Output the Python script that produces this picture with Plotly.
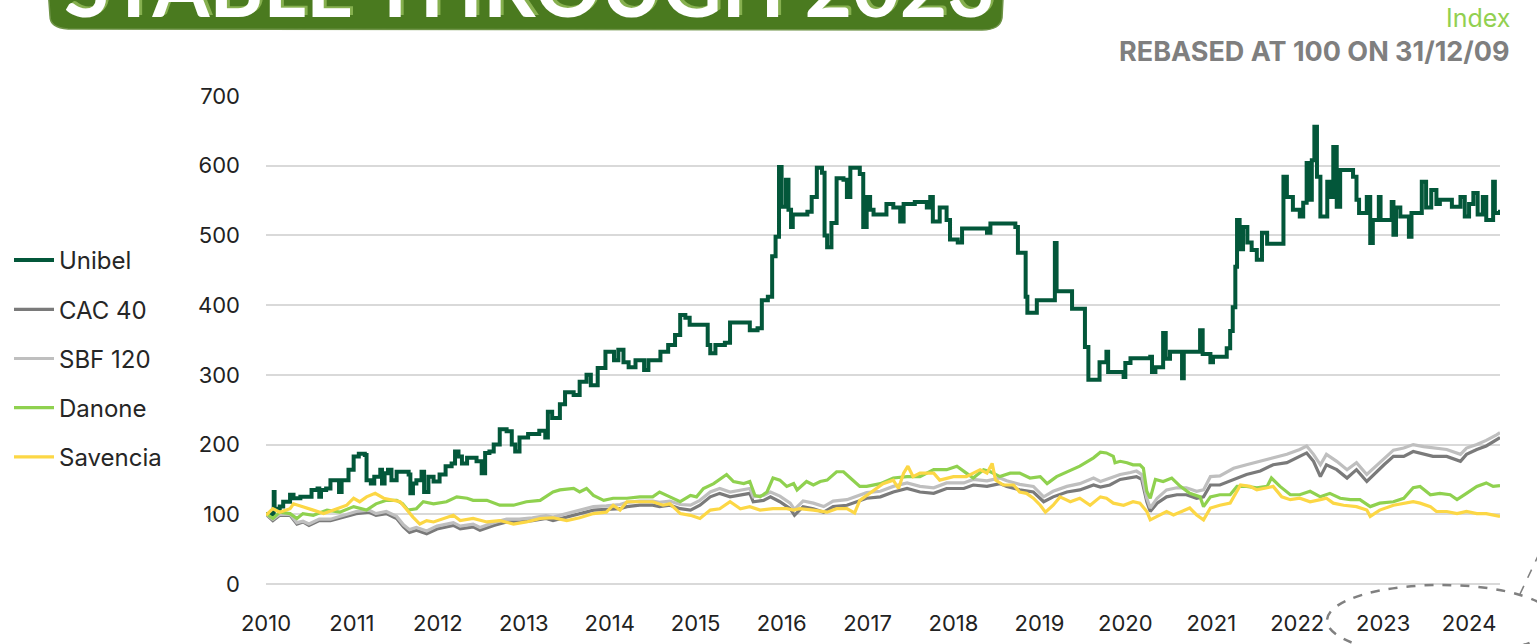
import plotly.graph_objects as go

# ---------------- data ----------------
years = list(range(2010, 2025))
year_labels = [str(y) for y in years]

unibel_t = [2010.00, 2010.08, 2010.09, 2010.10, 2010.16, 2010.20, 2010.28, 2010.32, 2010.40, 2010.53,
            2010.60, 2010.62, 2010.64, 2010.70, 2010.75, 2010.85, 2010.88, 2010.96, 2011.02, 2011.08,
            2011.15, 2011.17, 2011.22, 2011.26, 2011.33, 2011.35, 2011.38, 2011.42, 2011.46, 2011.52,
            2011.66, 2011.68, 2011.71, 2011.75, 2011.81, 2011.84, 2011.89, 2011.95, 2012.02, 2012.09,
            2012.16, 2012.20, 2012.24, 2012.28, 2012.34, 2012.45, 2012.51, 2012.55, 2012.60, 2012.65,
            2012.72, 2012.80, 2012.86, 2012.90, 2012.95, 2013.05, 2013.18, 2013.25, 2013.28, 2013.33,
            2013.42, 2013.48, 2013.58, 2013.65, 2013.73, 2013.78, 2013.86, 2013.95, 2014.05, 2014.10,
            2014.16, 2014.22, 2014.30, 2014.40, 2014.45, 2014.59, 2014.68, 2014.76, 2014.82, 2014.88,
            2014.93, 2015.14, 2015.17, 2015.23, 2015.34, 2015.40, 2015.63, 2015.72, 2015.77, 2015.84,
            2015.89, 2015.93, 2015.97, 2016.00, 2016.05, 2016.08, 2016.11, 2016.13, 2016.30, 2016.35,
            2016.41, 2016.47, 2016.50, 2016.53, 2016.58, 2016.64, 2016.72, 2016.76, 2016.80, 2016.91,
            2016.95, 2016.99, 2017.03, 2017.07, 2017.22, 2017.30, 2017.38, 2017.42, 2017.55, 2017.69,
            2017.73, 2017.76, 2017.84, 2017.92, 2017.96, 2018.05, 2018.10, 2018.39, 2018.43, 2018.72,
            2018.75, 2018.84, 2018.86, 2018.97, 2019.18, 2019.20, 2019.38, 2019.53, 2019.57, 2019.70,
            2019.78, 2019.80, 2019.98, 2020.00, 2020.06, 2020.29, 2020.31, 2020.35, 2020.44, 2020.47,
            2020.52, 2020.66, 2020.68, 2020.87, 2020.90, 2020.99, 2021.02, 2021.18, 2021.22, 2021.25,
            2021.28, 2021.30, 2021.33, 2021.37, 2021.42, 2021.47, 2021.53, 2021.59, 2021.65, 2021.84,
            2021.88, 2021.95, 2022.03, 2022.07, 2022.11, 2022.15, 2022.17, 2022.20, 2022.23, 2022.27,
            2022.35, 2022.38, 2022.42, 2022.46, 2022.50, 2022.65, 2022.69, 2022.72, 2022.81, 2022.85,
            2022.88, 2022.95, 2022.97, 2023.10, 2023.12, 2023.15, 2023.20, 2023.30, 2023.33, 2023.45,
            2023.50, 2023.56, 2023.62, 2023.66, 2023.80, 2023.90, 2023.95, 2024.00, 2024.05, 2024.10,
            2024.16, 2024.20, 2024.28, 2024.30, 2024.36]
unibel_v = [100, 101, 132, 108, 111, 118, 128, 123, 125, 135,
            137, 125, 135, 137, 149, 132, 149, 164, 183, 187,
            185, 149, 144, 154, 164, 144, 159, 164, 149, 161,
            157, 130, 144, 149, 161, 132, 154, 147, 157, 169,
            173, 190, 183, 173, 181, 176, 159, 188, 190, 200,
            222, 219, 200, 190, 210, 215, 220, 210, 247, 238,
            258, 275, 271, 290, 300, 285, 310, 333, 321, 336,
            318, 311, 321, 307, 321, 333, 343, 357, 386, 382,
            372, 343, 331, 343, 346, 375, 364, 367, 407, 412,
            470, 498, 598, 541, 580, 537, 512, 530, 534, 555,
            597, 590, 500, 483, 518, 582, 580, 555, 597, 588,
            512, 555, 537, 530, 545, 540, 520, 545, 548, 540,
            555, 520, 540, 522, 494, 490, 510, 504, 517, 512,
            475, 412, 389, 407, 489, 420, 395, 340, 293, 318,
            333, 304, 297, 317, 324, 326, 304, 311, 360, 323,
            333, 295, 333, 364, 330, 318, 326, 338, 363, 397,
            455, 522, 480, 512, 490, 479, 465, 504, 488, 584,
            555, 537, 527, 547, 604, 551, 608, 656, 584, 527,
            577, 555, 627, 541, 594, 584, 551, 532, 555, 489,
            522, 555, 522, 548, 501, 540, 527, 498, 532, 577,
            540, 565, 545, 551, 541, 555, 527, 545, 561, 530,
            555, 522, 577, 532, 537]

cac_t = [2010.00, 2010.08, 2010.16, 2010.28, 2010.36, 2010.43, 2010.50, 2010.62, 2010.75, 2010.90,
         2011.05, 2011.20, 2011.28, 2011.40, 2011.52, 2011.60, 2011.67, 2011.75, 2011.87, 2011.99,
         2012.10, 2012.18, 2012.26, 2012.41, 2012.49, 2012.65, 2012.80, 2012.95, 2013.10, 2013.26,
         2013.34, 2013.50, 2013.65, 2013.81, 2013.96, 2014.12, 2014.20, 2014.35, 2014.50, 2014.58,
         2014.70, 2014.82, 2014.94, 2015.05, 2015.17, 2015.28, 2015.40, 2015.52, 2015.63, 2015.67,
         2015.79, 2015.87, 2015.98, 2016.10, 2016.15, 2016.25, 2016.37, 2016.49, 2016.60, 2016.76,
         2016.87, 2016.99, 2017.15, 2017.30, 2017.46, 2017.61, 2017.77, 2017.92, 2018.12, 2018.23,
         2018.39, 2018.54, 2018.62, 2018.77, 2018.93, 2019.05, 2019.16, 2019.32, 2019.47, 2019.63,
         2019.71, 2019.82, 2019.94, 2020.06, 2020.13, 2020.19, 2020.25, 2020.29, 2020.37, 2020.48,
         2020.60, 2020.71, 2020.83, 2020.91, 2020.99, 2021.10, 2021.26, 2021.41, 2021.57, 2021.72,
         2021.88, 2022.03, 2022.11, 2022.19, 2022.27, 2022.34, 2022.46, 2022.58, 2022.69, 2022.81,
         2022.89, 2023.01, 2023.12, 2023.24, 2023.35, 2023.47, 2023.58, 2023.74, 2023.90, 2023.97,
         2024.09, 2024.20, 2024.32, 2024.36]
cac_v = [100, 91, 98.5, 98.5, 86, 89, 84, 91, 91, 96,
         101, 103, 98.5, 101, 94, 82, 74, 77, 72, 79,
         82, 84, 79, 82, 77, 84, 89, 89, 91, 94,
         91, 96, 101, 106, 107, 108, 111, 113, 113, 111,
         113, 108, 106, 113, 125, 130, 125, 127, 130, 118,
         120, 125, 118, 108, 98.5, 111, 108, 103, 111, 113,
         118, 123, 125, 132, 137, 132, 130, 137, 137, 142,
         140, 144, 140, 135, 132, 118, 125, 132, 135, 142,
         139, 142, 150, 152, 154, 150, 118, 104, 116, 125,
         128, 128, 123, 125, 142, 142, 150, 157, 162, 171,
         174, 183, 188, 176, 154, 171, 164, 152, 164, 147,
         157, 171, 183, 183, 190, 186, 183, 183, 176, 186,
         193, 198, 207, 210]

sbf_t = cac_t
sbf_v = [100, 93, 100, 100, 88, 90, 86, 93, 93, 98,
         104, 106, 101, 104, 97, 85, 78, 81, 76, 83,
         86, 88, 83, 86, 81, 88, 93, 93, 95, 98,
         96, 101, 106, 111, 112, 114, 117, 119, 119, 117,
         119, 114, 113, 120, 132, 137, 132, 134, 137, 125,
         127, 132, 126, 116, 107, 119, 116, 111, 119, 121,
         126, 131, 133, 140, 145, 140, 138, 145, 145, 150,
         148, 152, 148, 143, 140, 125, 133, 140, 144, 152,
         147, 152, 157, 160, 162, 157, 123, 109, 123, 135,
         138, 138, 133, 135, 154, 155, 166, 171, 176, 181,
         186, 193, 198, 186, 171, 186, 176, 164, 174, 157,
         166, 181, 192, 195, 200, 197, 195, 193, 186, 195,
         200, 206, 214, 217]

danone_t = [2010.00, 2010.08, 2010.16, 2010.28, 2010.36, 2010.43, 2010.55, 2010.71, 2010.86, 2011.02,
            2011.17, 2011.28, 2011.40, 2011.52, 2011.59, 2011.65, 2011.75, 2011.83, 2011.95, 2012.10,
            2012.22, 2012.34, 2012.41, 2012.57, 2012.72, 2012.88, 2013.03, 2013.19, 2013.34, 2013.42,
            2013.58, 2013.65, 2013.73, 2013.81, 2013.93, 2014.04, 2014.20, 2014.35, 2014.50, 2014.58,
            2014.70, 2014.82, 2014.94, 2015.01, 2015.09, 2015.21, 2015.36, 2015.44, 2015.56, 2015.63,
            2015.69, 2015.75, 2015.83, 2015.90, 2015.98, 2016.06, 2016.14, 2016.18, 2016.29, 2016.37,
            2016.45, 2016.53, 2016.64, 2016.72, 2016.80, 2016.91, 2016.99, 2017.15, 2017.30, 2017.46,
            2017.61, 2017.77, 2017.92, 2018.04, 2018.15, 2018.23, 2018.35, 2018.43, 2018.54, 2018.66,
            2018.77, 2018.89, 2019.01, 2019.09, 2019.20, 2019.32, 2019.47, 2019.63, 2019.71, 2019.78,
            2019.86, 2019.88, 2019.94, 2020.02, 2020.09, 2020.17, 2020.21, 2020.25, 2020.29, 2020.35,
            2020.44, 2020.54, 2020.64, 2020.75, 2020.87, 2020.91, 2020.99, 2021.10, 2021.22, 2021.30,
            2021.41, 2021.53, 2021.65, 2021.70, 2021.80, 2021.92, 2022.03, 2022.15, 2022.27, 2022.38,
            2022.50, 2022.62, 2022.73, 2022.85, 2022.96, 2023.12, 2023.24, 2023.35, 2023.43, 2023.55,
            2023.66, 2023.78, 2023.86, 2023.97, 2024.09, 2024.20, 2024.28, 2024.36]
danone_v = [101, 94, 103, 101, 94, 101, 98.5, 106, 103, 111,
            106, 115, 120, 120, 115, 106, 108, 118, 115, 118,
            125, 123, 120, 120, 113, 113, 118, 120, 132, 135,
            137, 132, 137, 127, 120, 123, 123, 125, 125, 132,
            125, 118, 127, 125, 137, 144, 157, 147, 144, 147,
            127, 125, 132, 152, 149, 140, 144, 135, 147, 142,
            147, 149, 161, 161, 152, 140, 140, 144, 152, 154,
            154, 164, 164, 169, 159, 152, 164, 161, 154, 159,
            159, 152, 154, 144, 154, 161, 169, 181, 189, 188,
            183, 174, 176, 174, 171, 171, 166, 133, 123, 150,
            147, 152, 140, 130, 125, 111, 125, 128, 128, 140,
            140, 138, 140, 152, 140, 128, 128, 133, 125, 130,
            123, 121, 121, 111, 116, 118, 123, 138, 140, 128,
            130, 128, 121, 130, 140, 145, 140, 141]

savencia_t = [2010.00, 2010.08, 2010.16, 2010.28, 2010.32, 2010.43, 2010.55, 2010.67, 2010.82, 2010.94,
              2011.02, 2011.09, 2011.17, 2011.27, 2011.37, 2011.48, 2011.56, 2011.63, 2011.71, 2011.79,
              2011.87, 2011.95, 2012.06, 2012.18, 2012.26, 2012.41, 2012.57, 2012.72, 2012.88, 2013.03,
              2013.19, 2013.34, 2013.50, 2013.65, 2013.81, 2013.96, 2014.04, 2014.12, 2014.20, 2014.35,
              2014.50, 2014.62, 2014.70, 2014.78, 2014.82, 2014.94, 2015.05, 2015.17, 2015.28, 2015.40,
              2015.52, 2015.63, 2015.75, 2015.90, 2016.06, 2016.14, 2016.21, 2016.37, 2016.53, 2016.64,
              2016.76, 2016.85, 2016.91, 2016.99, 2017.11, 2017.18, 2017.30, 2017.36, 2017.42, 2017.47,
              2017.53, 2017.61, 2017.77, 2017.84, 2018.00, 2018.15, 2018.31, 2018.39, 2018.45, 2018.49,
              2018.58, 2018.70, 2018.77, 2018.85, 2018.93, 2019.01, 2019.07, 2019.16, 2019.24, 2019.36,
              2019.47, 2019.59, 2019.71, 2019.78, 2019.86, 2019.98, 2020.09, 2020.17, 2020.25, 2020.29,
              2020.37, 2020.48, 2020.56, 2020.68, 2020.75, 2020.83, 2020.91, 2020.99, 2021.10, 2021.22,
              2021.30, 2021.34, 2021.45, 2021.53, 2021.65, 2021.72, 2021.82, 2021.92, 2022.03, 2022.15,
              2022.27, 2022.34, 2022.42, 2022.54, 2022.69, 2022.81, 2022.85, 2022.96, 2023.12, 2023.24,
              2023.35, 2023.43, 2023.55, 2023.62, 2023.74, 2023.86, 2023.97, 2024.09, 2024.20, 2024.36]
savencia_v = [98.5, 108, 103, 108, 115, 111, 106, 101, 108, 113,
              123, 118, 125, 130, 123, 120, 118, 108, 96, 86,
              91, 89, 94, 98.5, 91, 94, 89, 91, 86, 89,
              94, 95, 91, 95, 101, 103, 113, 106, 118, 118,
              118, 113, 115, 106, 101, 98.5, 94, 106, 108, 118,
              108, 111, 106, 108, 108, 106, 108, 106, 103, 108,
              108, 102, 120, 127, 137, 144, 149, 137, 159, 169,
              154, 159, 159, 149, 154, 154, 164, 159, 173, 149,
              142, 142, 132, 130, 123, 113, 103, 113, 125, 118,
              123, 113, 125, 123, 116, 113, 118, 116, 104, 92,
              97, 104, 99, 106, 109, 99, 92, 109, 113, 116,
              133, 142, 140, 135, 138, 140, 125, 121, 123, 118,
              121, 123, 116, 113, 111, 106, 97, 106, 113, 116,
              118, 116, 111, 104, 104, 101, 104, 101, 101, 97]

series = [
    ("Unibel", unibel_t, unibel_v, "#03573a", 4.0, "hv"),
    ("CAC 40", cac_t, cac_v, "#7a7a7a", 3.2, "linear"),
    ("SBF 120", sbf_t, sbf_v, "#bfbfbf", 3.2, "linear"),
    ("Danone", danone_t, danone_v, "#8fd14f", 3.2, "linear"),
    ("Savencia", savencia_t, savencia_v, "#fcd745", 3.2, "linear"),
]

# ---------------- layout helpers (pixel -> paper) ----------------
W, H = 1537, 644
ML, MR, MT, MB = 266, 37, 96, 60
PW, PH = W - ML - MR, H - MT - MB


def xp(px):
    return (px - ML) / PW


def yp(py):
    return (H - MB - py) / PH


FONT = "Inter, 'Open Sans', sans-serif"

fig = go.Figure()
for i, (name, t, v, col, wd, shape) in enumerate(series):
    fig.add_trace(go.Scatter(
        x=t, y=v, name=name, mode="lines",
        line=dict(color=col, width=wd, shape=shape),
        legendgroup=f"g{i}",
    ))

shapes = []
# title banner (partially cut off at the top of the page)
bx0, bx1, by0, by1 = 50, 1002, -40, 30
banner_path = (
    f"M {xp(bx0 - 4)},{yp(by0)} L {xp(bx1 + 3)},{yp(by0)} "
    f"L {xp(bx1)},{yp(by1 - 12)} Q {xp(bx1 - 2)},{yp(by1)} {xp(bx1 - 20)},{yp(by1)} "
    f"L {xp(bx0 + 18)},{yp(by1 - 1)} Q {xp(bx0)},{yp(by1 - 2)} {xp(bx0)},{yp(by1 - 14)} Z"
)
shapes.append(dict(type="path", xref="paper", yref="paper", path=banner_path,
                   fillcolor="#4a7a1f", line=dict(color="#6f9448", width=1.5), layer="below"))
# dashed ellipse around 2023-2024
shapes.append(dict(type="circle", xref="paper", yref="paper",
                   x0=xp(1327), x1=xp(1555), y0=yp(656), y1=yp(585),
                   line=dict(color="#808080", width=2.5, dash="dash")))
shapes.append(dict(type="line", xref="paper", yref="paper",
                   x0=xp(1520), y0=yp(594), x1=xp(1548), y1=yp(535),
                   line=dict(color="#808080", width=1.6, dash="dash")))

annotations = [
    dict(text="<b>STABLE THROUGH 2023</b>", xref="paper", yref="paper",
         x=xp(532), y=yp(34), xanchor="center", yanchor="bottom", showarrow=False,
         font=dict(family="Lato, 'DejaVu Sans', sans-serif", size=82, color="#86b04f")),
    dict(text="<b>STABLE THROUGH 2023</b>", xref="paper", yref="paper",
         x=xp(529), y=yp(36), xanchor="center", yanchor="bottom", showarrow=False,
         font=dict(family="Lato, 'DejaVu Sans', sans-serif", size=82, color="#ffffff")),
    dict(text="Index", xref="paper", yref="paper", x=xp(1512), y=yp(18),
         xanchor="right", yanchor="middle", showarrow=False,
         font=dict(family=FONT, size=25, color="#92d050")),
    dict(text="<b>REBASED AT 100 ON 31/12/09</b>", xref="paper", yref="paper",
         x=xp(1512), y=yp(51), xanchor="right", yanchor="middle", showarrow=False,
         font=dict(family=FONT, size=27, color="#7f7f7f")),
]

fig.update_layout(
    width=W, height=H, autosize=False,
    margin=dict(l=ML, r=MR, t=MT, b=MB, pad=0, autoexpand=False),
    paper_bgcolor="white", plot_bgcolor="white",
    font=dict(family=FONT, color="#222222"),
    shapes=shapes, annotations=annotations,
    showlegend=True,
    legend=dict(x=xp(9), y=yp(238), xanchor="left", yanchor="top",
                font=dict(family=FONT, size=24, color="#262626"),
                tracegroupgap=15, itemwidth=40, bgcolor="rgba(0,0,0,0)",
                traceorder="grouped"),
    xaxis=dict(range=[2010, 2024.36], tickmode="array", tickvals=years, ticktext=year_labels,
               showgrid=False, zeroline=False, showline=False, ticks="", automargin=False,
               tickfont=dict(family=FONT, size=22, color="#222222"), ticklabelstandoff=24,
               fixedrange=True),
    yaxis=dict(range=[0, 700], dtick=100, tick0=0, showgrid=True, gridcolor="#d9d9d9", gridwidth=2,
               zeroline=True, zerolinecolor="#d9d9d9", zerolinewidth=2, showline=False, ticks="",
               automargin=False,
               tickfont=dict(family=FONT, size=22, color="#222222"), ticklabelstandoff=25,
               fixedrange=True),
)

fig.write_html("out.html", config={"displayModeBar": False},
               post_script="document.body.style.margin='0';document.body.style.overflow='hidden';")
